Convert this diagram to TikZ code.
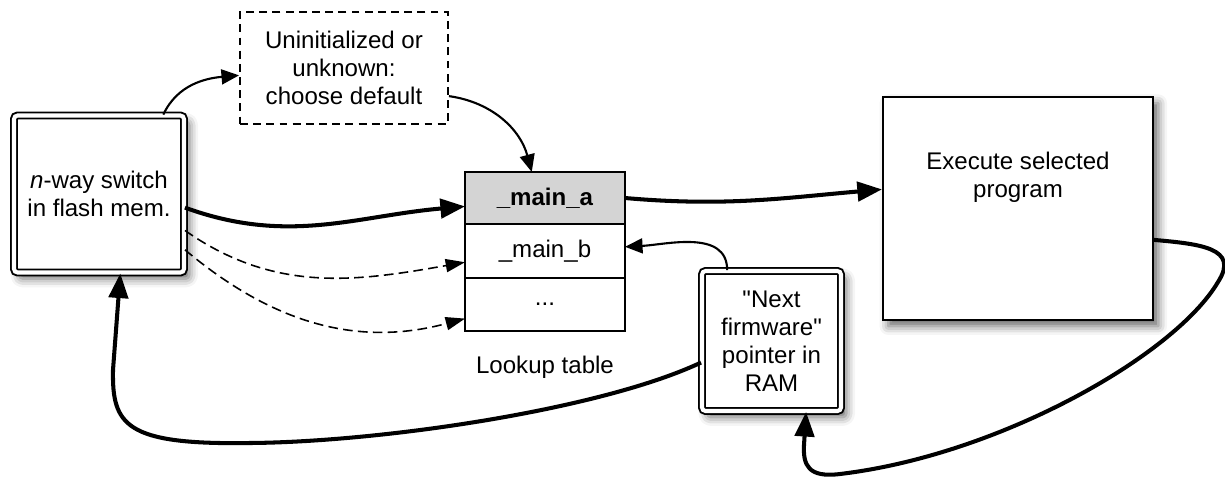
\documentclass[tikz,border=0pt]{standalone}
\usepackage{fontspec}
\setmainfont{Liberation Sans}[Ligatures=TeXOff]
\usetikzlibrary{arrows.meta,positioning,shadows.blur,fit,backgrounds}

\begin{document}
\begin{tikzpicture}[
			x=0.02cm,
			y=-0.02cm,
			every node/.style={font=\fontsize{13.7pt}{16pt}\selectfont, align=center},
			softshadow/.style={blur shadow={shadow xshift=3pt, shadow yshift=-3.5pt, shadow blur radius=5pt, shadow opacity=60}},
			memframe/.style={draw, double, double distance=2.3pt, line width=1.1pt, rounded corners=2pt, fill=white, softshadow},
			plainbox/.style={draw, line width=1.2pt, fill=white},
			tablerow/.style={draw, line width=1.1pt, fill=white, outer sep=0pt, minimum width=3.2cm},
			thick arrow/.style={line width=2.3pt, -{Triangle[length=14pt, width=11pt]}},
			thin arrow/.style={line width=1.2pt, -{Triangle[length=10pt, width=8.5pt]}},
			maybe arrow/.style={line width=0.9pt, dash pattern=on 5.5pt off 3pt, -{Triangle[length=11pt, width=7.5pt]}}
		]
		\useasboundingbox (0,0) rectangle (1225,477);

		\node[memframe, minimum width=3.4cm, minimum height=3.14cm] (switch) at (99,194) {\textit{n}-way switch\\in flash mem.};
		\node[draw, line width=1.1pt, dash pattern=on 4.5pt off 3pt, minimum width=4.16cm, minimum height=2.24cm] (dflt) at (344,68) {Uninitialized or\\unknown:\\choose default};

		% lookup table
		\node[tablerow, fill=black!17, minimum height=1.04cm] (ma) at (545,198) {\textbf{\_main\_a}};
		\node[tablerow, minimum height=1.08cm, below=0pt of ma] (mb) {\_main\_b};
		\node[tablerow, minimum height=1.06cm, below=0pt of mb] (dots) {...};
		\node[below=0.38cm of dots] (tbl) {Lookup table};
		\begin{scope}[on background layer]
			\node[fit=(ma)(dots), inner sep=0pt, fill=white, softshadow] (tblshadow) {};
		\end{scope}

		\node[plainbox, softshadow, minimum width=5.4cm, minimum height=4.46cm] (exec) at (1018,208.5) {};
		\node (exectxt) at (1018,177) {Execute selected\\program};
		\node[memframe, minimum width=2.78cm, minimum height=2.8cm] (ram) at (771.5,341) {"Next\\firmware"\\pointer in\\RAM};

		\draw[thin arrow] (switch.51) to[out=65, in=185] (dflt.184);
		\draw[thin arrow] (dflt.-15) to[out=-8, in=105] (ma.117);
		\draw[thick arrow] (switch.-9) to[out=-20, in=185] (ma.186);
		\draw[maybe arrow] (switch.-23) to[out=-35, in=190] (mb.188);
		\draw[maybe arrow] (switch.-33) to[out=-40, in=195] (dots.190);
		\draw[thick arrow] (ma.east) to[out=-5, in=185] (exec.172);
		\draw[thin arrow] (ram.122) to[out=90, in=3] (mb.3);

		% loops back
		\draw[thick arrow] (ram.197) .. controls (600,410) and (380,442) .. (250,443)
			.. controls (125,445) and (112,425) .. (113,370) -- (switch.-75);
		\draw[thick arrow] (exec.-13) .. controls (1200,244) and (1240,248) .. (1218,282)
			.. controls (1175,355) and (1000,455) .. (840,474)
			.. controls (808,478) and (803,465) .. (804,445) -- (ram.-64);
	\end{tikzpicture}
\end{document}
